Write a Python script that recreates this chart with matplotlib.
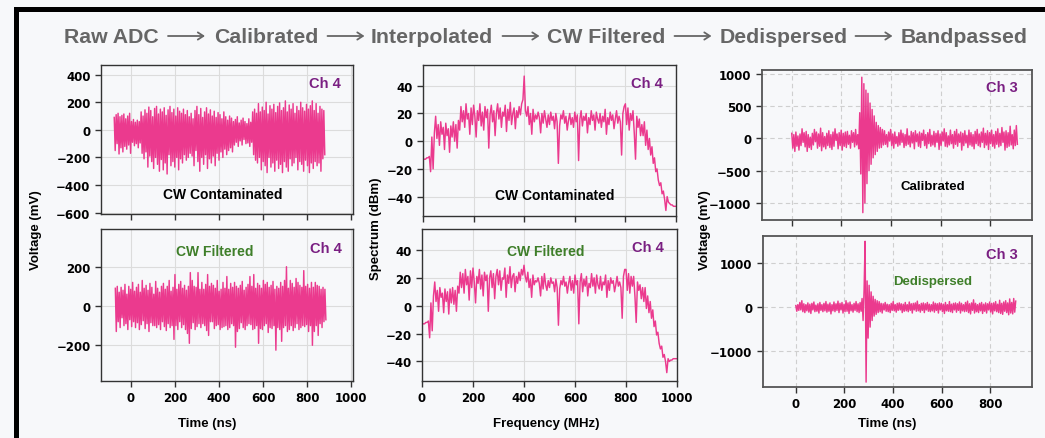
import numpy as np
import matplotlib
matplotlib.use("Agg")
import matplotlib.pyplot as plt
from matplotlib.patches import Rectangle, FancyArrowPatch

# ---- Ch 4 time domain, CW contaminated (mV), -75 .. 880 ns
cw_time_raw = [
    90, -150, 110, -100, 120, -175, 95, -130, 105, -160,
    115, -120, 80, -140, 100, -110, 120, -170, 60, -90,
    75, -115, 55, -100, 70, -130, 60, -95, 130, -170,
    100, -210, 145, -160, 120, -270, 165, -190, 140, -230,
    95, -280, 155, -200, 170, -250, 115, -300, 150, -215,
    130, -290, 160, -240, 105, -320, 145, -180, 170, -260,
    125, -230, 150, -270, 100, -200, 160, -290, 135, -210,
    120, -240, 150, -180, 110, -220, 140, -200, 95, -170,
    120, -190, 80, -260, 140, -150, 170, -230, 110, -300,
    155, -200, 90, -250, 130, -180, 160, -280, 115, -210,
    145, -240, 100, -190, 135, -260, 90, -170, 125, -220,
    110, -160, 80, -200, 130, -140, 95, -180, 70, -150,
    100, -130, 85, -160, 60, -110, 75, -90, 95, -120,
    50, -80, 70, -110, 85, -70, 60, -100, 45, -95,
    80, -120, 55, -90, 130, -180, 150, -220, 120, -240,
    190, -200, 130, -290, 165, -230, 140, -260, 200, -310,
    115, -200, 175, -270, 150, -240, 185, -300, 125, -220,
    170, -280, 195, -250, 140, -310, 160, -230, 210, -270,
    130, -300, 180, -210, 150, -260, 190, -240, 120, -200,
    170, -290, 140, -230, 200, -250, 160, -300, 135, -220,
    185, -260, 150, -310, 175, -240, 210, -280, 140, -230,
    190, -260, 120, -240, 170, -300, 150, -210, 140, -180,
]
cw_time_raw_range = (-75, 880)

# ---- Ch 4 time domain, CW filtered (mV), -70 .. 885 ns
cw_time_filt = [
    90, -130, 100, -80, 70, -110, 95, -60, 80, -100,
    110, -90, 60, -120, 100, -70, 85, -105, 120, -80,
    75, -110, 95, -85, 110, -120, 70, -95, 130, -75,
    90, -115, 105, -90, 80, -130, 115, -85, 95, -100,
    60, -100, 125, -110, 90, -95, 70, -120, 100, -80,
    115, -105, 85, -125, 100, -90, 130, -110, 75, -100,
    95, -170, 160, -100, 85, -120, 110, -80, 125, -110,
    90, -95, 105, -120, 80, -140, 100, -190, 170, -115,
    130, -85, 100, -120, 95, -105, 170, -90, 85, -110,
    120, -90, 85, -100, 110, -125, 160, -150, 100, -80,
    115, -80, 105, -115, 90, -100, 130, -95, 75, -120,
    85, -110, 120, -105, 90, -100, 150, -120, 85, -110,
    115, -90, 95, -100, 120, -210, 100, -130, 90, -115,
    105, -85, 125, -110, 80, -120, 95, -100, 110, -90,
    150, -95, 100, -120, 160, -115, 90, -100, 115, -190,
    105, -115, 90, -120, 130, -100, 110, -90, 120, -135,
    95, -110, 105, -115, 125, -100, 85, -225, 100, -110,
    90, -120, 120, -180, 100, -110, 130, -100, 200, -130,
    90, -120, 130, -100, 115, -125, 95, -110, 140, -90,
    120, -120, 105, -110, 95, -100, 180, -105, 100, -95,
    110, -130, 90, -100, 120, -200, 95, -130, 120, -100,
    105, -150, 100, -90, 85, -110, 95, -80, 85, -70,
]
cw_time_filt_range = (-70, 885)

# ---- Ch 4 spectrum, CW contaminated (dBm), 0 .. 1000 MHz
spec_raw = (
    [-13, -13, -13, -12, -12, -11]
    + [-22, 3, -20, 6]
    + [18, 2, 12, -3, 14, 5, 10, -6, 13, 4, 9, -8, 11, 3, 14, 0, 12, -5, 15, 8]
    + [25, 14, 22, 10, 27, 16, 20, 5, 24, 12, 26, 18, 3, 22, 15, 27, 11, 21, 8, 25,
       17, 23, -5, 19, 26, 14, 22, 4, 20, 27, 16, 24, 10, 21, 18, 26, 7, 23, 15, 28,
       12, 20, 24, 9, 22, 17, 25, 19, 27, 30]
    + [47]
    + [22, 18, 25, 12, 20, 5, 23, 14, 19, 16,
       21, 17, 6, 20, 13, 22, 16, 10, 19, 12,
       21, 15, 18, 9, 20, 14, -16, 11, 19, 16,
       22, 13, 18, 8, 15, 20, 12, 17, 10, 21,
       14, 19, -14, 16, 22, 11, 18, 15, 20, 6,
       17, 12, 22, 15, 19, 8, 21, 16, 13, 20,
       10, 18, 14, 23, 5, 17, 12, 21, 15, 19,
       9, 16, 22, 13, 18, 14, -10, 20, 25]
    + [27, 12, 24, 8, 20, 15, 22, 6, -13, 18, 10, 16, 4]
    + [12, 4, 14, -3, 8, -6, 2, -10, -4, -16, -12, -22, -20, -28, -32, -30, -38, -36]
    + [-42, -50, -40, -44, -45, -46, -46, -47, -47, -47]
)

# ---- Ch 4 spectrum, CW filtered (dBm), 0 .. 1000 MHz
spec_filt = (
    [-13, -13, -13, -12, -12, -11]
    + [-23, 2, -18, 7]
    + [17, 3, 11, -4, 13, 6, 9, -5, 12, 3, 10, -6, 12, 2, 13, 1, 11, -4, 14, 9]
    + [24, 13, 23, 9, 26, 15, 21, 4, 25, 13, 27, 17, 2, 21, 16, 26, 12, 22, 7, 24,
       18, 22, -4, 20, 25, 13, 23, 5, 21, 26, 15, 25, 11, 20, 19, 27, 6, 22, 16, 28,
       13, 21, 23, 10, 21, 16, 24, 18, 26, 22]
    + [29]
    + [21, 17, 24, 13, 19, 6, 22, 15, 18, 17,
       20, 16, 7, 21, 12, 23, 15, 11, 18, 13,
       20, 16, 17, 10, 19, 13, -14, 12, 18, 15,
       21, 14, 17, 9, 16, 21, 11, 18, 9, 22,
       15, 18, -13, 17, 23, 10, 19, 14, 21, 7,
       16, 13, 23, 14, 20, 9, 22, 15, 12, 21,
       11, 17, 15, 22, 6, 18, 11, 20, 16, 18,
       10, 15, 21, 14, 17, 13, -9, 21, 26]
    + [26, 11, 23, 9, 21, 14, 21, 7, -12, 17, 11, 15, 5]
    + [13, 3, 13, -2, 7, -5, 3, -9, -3, -15, -11, -21, -19, -27, -31, -29, -37, -35]
    + [-40, -48, -38, -40, -39, -39, -38, -38, -38, -38]
)

# ---- Ch 3 time domain, calibrated (mV), 0 .. 910 ns
ch3_calib = [
    80, -150, 60, -200, 100, -120, 40, -180, 70, -110,
    150, -60, 90, -130, 110, -200, 60, -140, 20, -170,
    80, -100, 140, -50, 100, -150, 70, -120, 160, -190,
    90, -130, 30, -160, 80, -110, 120, -140, 60, -170,
    100, -120, 150, -30, 70, -160, 90, -110, 130, -180,
    80, -120, 100, -140, 110, -90, 50, -150, 120, -60,
    90, -130, 140, -100, 60, -160, 400, -550, 950, -1150,
    850, -1000, 750, -700, 700, -500, 550, -400, 450, -300,
    350, -250, 250, -200, 200, -150, 170, -140, 140, -100,
    120, -90, 60, -130, 100, -40, 140, -110, 70, -150,
    100, -80, 30, -120, 90, -100, 130, -60, 80, -140,
    60, -110, 150, -90, 40, -130, 110, -70, 90, -160,
    120, -50, 70, -120, 100, -140, 80, -30, 130, -110,
    60, -150, 90, -80, 140, -120, 50, -100, 110, -130,
    80, -60, 120, -170, 70, -110, 100, -40, 150, -120,
    90, -130, 40, -100, 130, -80, 60, -150, 110, -90,
    140, -120, 70, -60, 100, -180, 80, -110, 120, -70,
    50, -140, 130, -100, 90, -120, 60, -160, 110, -80,
    140, -110, 70, -130, 100, -60, 160, -140, 80, -100,
    120, -170, 90, -80, 130, -120, 60, -150, 110, -90,
    150, -130, 80, -110, 170, -60, 100, -180, 120, -140,
    90, -120, 190, -100, 60, -160, 130, -110, 200, -90,
]
ch3_calib_range = (0, 910)

# ---- Ch 3 time domain, dedispersed (mV), 0 .. 905 ns
ch3_dedisp = [
    40, -90, 60, -70, 110, -60, 150, -100, 80, -120,
    60, -80, 100, -110, 70, -140, 90, -60, 120, -100,
    50, -90, 80, -130, 110, -70, 60, -100, 90, -80,
    130, -110, 70, -90, 100, -150, 60, -80, 120, -100,
    80, -70, 140, -120, 90, -60, 110, -130, 70, -100,
    150, -90, 100, -140, 120, -80, 60, -110, 90, -70,
    130, -100, 80, -120, 110, -90, 200, -300, 400, 1500,
    -1700, 600, -700, 500, -450, 350, -300, 250, -200, 180,
    -160, 150, -120, 130, -100, 90, -130, 80, -60, 110,
    -90, 70, -100, 60, -120, 90, -70, 130, -80, 60,
    -110, 90, -70, 100, -60, 80, -120, 70, -90, 110,
    -80, 60, -100, 120, -70, 80, -130, 90, -60, 100,
    -90, 140, -80, 60, -110, 90, -70, 100, -120, 80,
    -60, 110, -90, 70, -100, 60, -80, 120, -110, 90,
    -70, 80, -130, 100, -60, 90, -100, 70, -140, 110,
    -80, 60, -90, 130, -100, 70, -120, 90, -60, 100,
    -110, 80, -70, 120, -130, 90, -80, 60, -100, 110,
    -90, 140, -120, 80, -150, 100, -70, 170, -130, 90,
    -100, 60, -120, 90, -80, 110, -140, 70, -90, 100,
    -130, 80, -60, 120, -110, 90, -150, 100, -80, 130,
    -100, 70, -120, 160, -140, 90, -160, 120, -90, 150,
    -120, 100, -170, 190, -130, 110, -150, 200, -110, 140,
]
ch3_dedisp_range = (0, 905)

stages = ["Raw ADC", "Calibrated", "Interpolated", "CW Filtered", "Dedispersed", "Bandpassed"]
# title word centres and arrow centres (pixels)
stage_x = [111, 266.5, 432, 606.5, 783.5, 964.5]
arrow_x = [186, 345.5, 520.5, 692.5, 873.5]

BG = "#f7f8fa"
PINK = "#eb3a8e"
PURPLE = "#7a1f82"
GREEN = "#3f7f2a"
GRAY = "#666666"
W, H = 1045, 439

plt.rcParams["font.family"] = "DejaVu Sans"
plt.rcParams["font.weight"] = "bold"
LAB = ["Liberation Sans", "DejaVu Sans"]

fig = plt.figure(figsize=(W / 100, H / 100), dpi=100, facecolor=BG)


def box(l, t, r, b):
    return [l / W, 1 - b / H, (r - l) / W, (b - t) / H]


def style(ax, dashed=False):
    ax.set_facecolor(BG)
    if dashed:
        ax.grid(True, color="#cfcfcf", lw=0.8, ls=(0, (4, 3)))
        for s in ax.spines.values():
            s.set_color("#555555")
            s.set_linewidth(1.3)
    else:
        ax.grid(True, color="#dcdcdc", lw=0.8)
        for s in ax.spines.values():
            s.set_color("#333333")
            s.set_linewidth(1.0)
    ax.set_axisbelow(True)
    ax.tick_params(labelsize=8.5, length=4, width=1, color="#333333")


def tag(ax, x, y, s, color, size=10):
    ax.text(x, y, s, transform=ax.transAxes, ha="center", va="center",
            color=color, fontsize=size, fontweight="bold", family=LAB)


LW = 1.05

# left column: time domain ch 4
ax1 = fig.add_axes(box(101, 66, 353, 215))
ax2 = fig.add_axes(box(101, 230, 353, 382))
t1 = np.linspace(*cw_time_raw_range, len(cw_time_raw))
t2 = np.linspace(*cw_time_filt_range, len(cw_time_filt))
ax1.plot(t1, cw_time_raw, color=PINK, lw=LW)
ax2.plot(t2, cw_time_filt, color=PINK, lw=LW)
for ax in (ax1, ax2):
    style(ax)
    ax.set_xlim(-135, 1008)
    ax.set_xticks(np.arange(0, 1001, 200))
ax1.set_ylim(-610, 470)
ax1.set_yticks(np.arange(-600, 401, 200))
ax1.tick_params(labelbottom=False)
ax2.set_ylim(-382, 392)
ax2.set_yticks([-200, 0, 200])
tag(ax1, 0.889, 0.879, "Ch 4", PURPLE, 10.5)
tag(ax1, 0.484, 0.134, "CW Contaminated", "black")
tag(ax2, 0.452, 0.855, "CW Filtered", GREEN)
tag(ax2, 0.893, 0.875, "Ch 4", PURPLE, 10.5)

# middle column: spectra ch 4
ax3 = fig.add_axes(box(423, 66, 676, 217))
ax4 = fig.add_axes(box(422, 230, 677, 382))
f3 = np.linspace(0, 1000, len(spec_raw))
f4 = np.linspace(0, 1000, len(spec_filt))
ax3.plot(f3, spec_raw, color=PINK, lw=LW)
ax4.plot(f4, spec_filt, color=PINK, lw=LW)
for ax in (ax3, ax4):
    style(ax)
    ax.set_xlim(0, 1000)
    ax.set_xticks(np.arange(0, 1001, 200))
    ax.set_ylim(-54, 55)
    ax.set_yticks(np.arange(-40, 41, 20))
ax3.tick_params(labelbottom=False)
tag(ax3, 0.885, 0.881, "Ch 4", PURPLE, 10.5)
tag(ax3, 0.522, 0.139, "CW Contaminated", "black")
tag(ax4, 0.486, 0.855, "CW Filtered", GREEN)
tag(ax4, 0.886, 0.882, "Ch 4", PURPLE, 10.5)

# right column: ch 3 pulse
ax5 = fig.add_axes(box(762, 71, 1032, 221))
ax6 = fig.add_axes(box(763, 237, 1032, 388))
t5 = np.linspace(*ch3_calib_range, len(ch3_calib))
t6 = np.linspace(*ch3_dedisp_range, len(ch3_dedisp))
ax5.plot(t5, ch3_calib, color=PINK, lw=LW)
ax6.plot(t6, ch3_dedisp, color=PINK, lw=LW)
for ax in (ax5, ax6):
    style(ax, dashed=True)
    ax.set_xticks(np.arange(0, 801, 200))
ax5.set_xlim(-120, 969)
ax6.set_xlim(-135, 972)
ax5.set_ylim(-1264, 1062)
ax5.set_yticks(np.arange(-1000, 1001, 500))
ax5.tick_params(labelbottom=False)
ax6.set_ylim(-1811, 1620)
ax6.set_yticks([-1000, 0, 1000])
tag(ax5, 0.889, 0.887, "Ch 3", PURPLE, 10.5)
tag(ax5, 0.633, 0.227, "Calibrated", "black", 9.5)
tag(ax6, 0.888, 0.881, "Ch 3", PURPLE, 10.5)
tag(ax6, 0.632, 0.702, "Dedispersed", GREEN, 9.5)


# shared axis labels
def ftext(x, y, s, **kw):
    fig.text(x / W, 1 - y / H, s, ha="center", va="center", fontsize=9.5,
             fontweight="bold", family=LAB, **kw)


ftext(36, 230, "Voltage (mV)", rotation=90)
ftext(376, 229, "Spectrum (dBm)", rotation=90)
ftext(705, 230, "Voltage (mV)", rotation=90)
ftext(207, 424, "Time (ns)")
ftext(546, 424, "Frequency (MHz)")
ftext(887, 424, "Time (ns)")

# title: processing chain
for x, s in zip(stage_x, stages):
    fig.text(x / W, 1 - 43 / H, s, ha="center", va="baseline", fontsize=15.3,
             fontweight="bold", color=GRAY, family=LAB)
for x in arrow_x:
    fig.add_artist(FancyArrowPatch(((x - 18) / W, 1 - 37 / H), ((x + 19) / W, 1 - 37 / H),
                                   transform=fig.transFigure, arrowstyle="->,head_length=4,head_width=2.6",
                                   color=GRAY, lw=1.3, shrinkA=0, shrinkB=0, mutation_scale=1))

# black frame
fig.add_artist(Rectangle((15.5 / W, -0.2), 1.5, 1.2 - 9.5 / H, transform=fig.transFigure,
                         fill=False, ec="black", lw=3.6, clip_on=False))

fig.savefig("out.png", dpi=100, facecolor=BG)
